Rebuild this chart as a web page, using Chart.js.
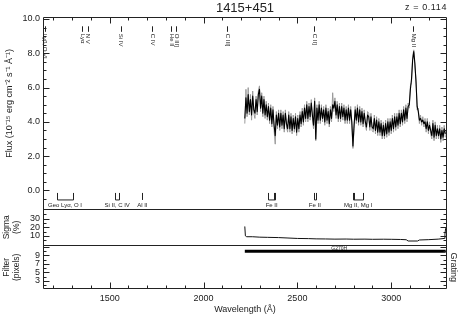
<!DOCTYPE html>
<html><head><meta charset="utf-8">
<script src="https://cdn.jsdelivr.net/npm/chart.js@4/dist/chart.umd.min.js"></script>
<style>html,body{margin:0;padding:0;background:#fff;}#wrap{width:468px;height:318px;}</style>
</head><body><div id="wrap"><canvas id="c" width="468" height="318"></canvas></div>
<script>
const chartTitle = '1415+451';
const redshiftText = 'z = 0.114';
const waves = [
2220,2226,2232,2238,2244,2250,2256,2262,2268,2274,
2280,2286,2292,2298,2304,2310,2316,2322,2328,2334,
2340,2346,2352,2358,2364,2370,2376,2382,2388,2394,
2400,2406,2412,2418,2424,2430,2436,2442,2448,2454,
2460,2466,2472,2478,2484,2490,2496,2502,2508,2514,
2520,2526,2532,2538,2544,2550,2556,2562,2568,2574,
2580,2586,2592,2598,2604,2610,2616,2622,2628,2634,
2640,2646,2652,2658,2664,2670,2676,2682,2688,2694,
2700,2706,2712,2718,2724,2730,2736,2742,2748,2754,
2760,2766,2772,2778,2784,2790,2796,2802,2808,2814,
2820,2826,2832,2838,2844,2850,2856,2862,2868,2874,
2880,2886,2892,2898,2904,2910,2916,2922,2928,2934,
2940,2946,2952,2958,2964,2970,2976,2982,2988,2994,
3000,3006,3012,3018,3024,3030,3036,3042,3048,3054,
3060,3066,3072,3078,3084,3090,3096,3102,3108,3114,
3120,3126,3132,3138,3144,3150,3156,3162,3168,3174,
3180,3186,3192,3198,3204,3210,3216,3222,3228,3234,
3240,3246,3252,3258,3264,3270,3276,3282,3288];
const fluxSmooth = [
4.2,5.4,4.5,5.6,4.6,5.3,4.4,5.5,4.7,4.5,
5.3,4.6,5.6,5.9,4.8,5.5,4.5,5.3,4.4,5.0,
4.3,4.9,4.1,4.8,3.9,4.7,3.8,3.2,4.4,3.8,
4.5,3.7,4.5,3.8,4.4,3.6,4.5,3.9,3.6,4.4,
3.6,4.3,3.5,4.2,3.6,4.3,3.4,4.2,3.6,4.4,
3.9,4.6,4.0,4.8,4.2,5.0,4.2,4.9,4.3,5.1,
4.4,3.8,5.2,3.0,4.8,4.1,5.0,4.1,4.8,4.2,
4.7,4.0,4.8,4.1,4.6,3.9,4.7,4.2,5.0,4.8,
5.2,4.4,5.0,4.2,4.9,4.2,4.9,4.3,4.8,4.1,
4.7,4.1,4.8,4.1,4.7,4.0,2.6,3.8,4.7,4.1,
4.8,4.0,4.7,4.0,4.6,3.9,4.5,4.0,3.7,4.4,
4.3,3.7,4.3,3.7,3.6,4.2,3.5,4.1,3.4,4.0,
3.4,3.9,3.2,3.8,3.2,3.9,3.3,4.0,3.4,4.0,
3.5,4.2,3.6,4.3,3.7,4.3,3.8,4.5,3.9,4.5,
4.0,4.7,4.1,4.8,4.2,4.9,5.0,5.9,6.5,7.6,
8.1,7.4,6.3,4.9,4.6,4.1,4.2,4.0,4.1,3.9,
4.0,3.6,4.0,3.5,3.8,3.5,3.2,3.9,3.1,3.8,
3.2,3.6,3.2,3.6,3.0,3.5,3.1,3.6,3.3];
const fluxRaw = [
3.9,5.9,4.3,6.0,4.4,5.6,4.1,5.8,4.5,4.2,
5.5,4.4,5.8,6.1,4.6,5.7,4.3,5.5,4.2,5.2,
4.1,5.1,3.9,5.0,3.7,4.9,3.5,2.7,4.6,3.6,
4.7,3.5,4.7,3.6,4.6,3.4,4.7,3.7,3.4,4.6,
3.4,4.5,3.3,4.4,3.4,4.5,3.2,4.4,3.4,4.6,
3.7,4.8,3.8,5.0,4.0,5.2,4.0,5.1,4.1,5.3,
4.2,3.6,5.4,2.9,5.0,3.9,5.2,3.9,5.0,4.0,
4.9,3.8,5.0,3.9,4.8,3.7,4.9,4.0,5.7,4.6,
5.4,4.2,5.2,4.0,5.1,4.0,5.1,4.1,5.0,3.9,
4.9,3.9,5.0,3.9,4.9,3.8,2.45,3.6,4.9,3.9,
5.0,3.8,4.9,3.8,4.8,3.7,4.7,3.8,3.5,4.6,
4.5,3.5,4.5,3.5,3.4,4.4,3.3,4.3,3.2,4.2,
3.2,4.1,3.0,4.0,3.0,4.1,3.1,4.2,3.2,4.2,
3.3,4.4,3.4,4.5,3.5,4.5,3.6,4.7,3.7,4.7,
3.8,4.9,3.9,5.0,4.0,5.1,4.8,6.1,6.3,7.8,
8.2,7.2,6.5,4.7,4.8,3.9,4.4,3.8,4.3,3.7,
4.2,3.4,4.2,3.3,4.0,3.3,3.0,4.1,2.9,4.0,
3.0,3.8,3.0,3.8,2.8,3.7,2.9,3.8,3.1];
const sigmaWaves = [2220,2223,2230,2260,2300,2340,2400,2450,2500,2560,2600,2650,2700,2760,2800,2860,2900,2960,3000,3050,3080,3090,3140,3150,3200,3250,3282,3286,3290];
const sigmaPct   = [21,10,9,9,8.5,8.3,8,7.5,7,6.8,6.5,6.4,6.2,6.3,6.1,6.2,6,6.1,6,5.8,5.5,4,4,5.2,5.6,6.2,7,12,19];
const filterWaves = [2220,3290];
const filterPixels = [10,10];
const gratingName = 'G270H';
const waveTicks = [1500,2000,2500,3000];
const fluxTicks = [0,2,4,6,8,10];
const sigmaTicks = [10,20,30];
const filterTicks = [3,5,7,9];
const emissionNames = ['Lyβ, O VI','Lyα','N V','Si IV','C IV','He II','O III]','C III]','C II]','Mg II'];
const emissionWaves = [1155,1355,1383,1559,1728,1829,1856,2127,2591,3118];
const absorptionNames = ['Geo Lyα, O I','Si II, C IV','Al II','Fe II','Fe II','Mg II, Mg I'];
const absorptionWaves = [[1220,1305],[1530,1550],[1674],[2344,2374,2382],[2586,2600],[2796,2803,2852]];

const FONT = 'Liberation Sans';
const INK = '#222';

const decorations = {
  id: 'decorations',
  afterDatasetsDraw(chart) {
    const {ctx, chartArea: a, scales} = chart;
    const xs = scales.x, yF = scales.yF, yS = scales.yS, yP = scales.yP;
    const L = Math.round(a.left) + 0.5, R = Math.round(a.right) - 0.5;
    const T = Math.round(a.top) + 0.5, B = Math.round(a.bottom) - 0.5;
    ctx.save();
    ctx.strokeStyle = INK; ctx.lineWidth = 1;
    ctx.beginPath();
    ctx.rect(L, T, R - L, B - T);
    const s1 = Math.round(yF.bottom) + 0.5, s2 = Math.round(yS.bottom) + 0.5;
    ctx.moveTo(L, s1); ctx.lineTo(R, s1);
    ctx.moveTo(L, s2); ctx.lineTo(R, s2);
    const yt = (scale, lo, hi, step, isMajor) => {
      for (let v = lo; v <= hi + 1e-9; v += step) {
        const p = Math.round(scale.getPixelForValue(v)) + 0.5;
        if (p <= scale.top + 1.5 || p >= scale.bottom - 1.5) continue;
        const len = isMajor(v) ? 6 : 3;
        ctx.moveTo(L, p); ctx.lineTo(L + len, p);
        ctx.moveTo(R, p); ctx.lineTo(R - len, p);
      }
    };
    yt(yF, -1, 10, 0.5, v => Math.abs(v / 2 - Math.round(v / 2)) < 1e-6);
    yt(yS, 0, 40, 5, v => v % 10 === 0);
    yt(yP, 1, 11, 1, v => v % 2 === 1);
    for (let w = 1200; w < 3300; w += 100) {
      const p = Math.round(xs.getPixelForValue(w)) + 0.5;
      const len = w % 500 === 0 ? 6 : 3;
      ctx.moveTo(p, T); ctx.lineTo(p, T + len);
      ctx.moveTo(p, B); ctx.lineTo(p, B - len);
    }
    emissionWaves.forEach(w => {
      const p = Math.round(xs.getPixelForValue(w)) + 0.5;
      ctx.moveTo(p, a.top + 9); ctx.lineTo(p, a.top + 14.5);
    });
    const z0 = yF.getPixelForValue(0);
    absorptionWaves.forEach(ws => {
      const ps = ws.map(w => Math.round(xs.getPixelForValue(w)) + 0.5);
      ps.forEach(p => { ctx.moveTo(p, z0 + 2.5); ctx.lineTo(p, z0 + 9.5); });
      if (ps.length > 1) { ctx.moveTo(ps[0], z0 + 9.5); ctx.lineTo(ps[ps.length - 1], z0 + 9.5); }
    });
    ctx.stroke();

    ctx.fillStyle = INK;
    ctx.font = '6px "' + FONT + '"';
    emissionNames.forEach((name, i) => {
      const p = xs.getPixelForValue(emissionWaves[i]);
      ctx.save();
      ctx.translate(p, a.top + 16.5);
      ctx.rotate(Math.PI / 2);
      ctx.textAlign = 'left'; ctx.textBaseline = 'middle';
      ctx.fillText(name, 0, 0);
      ctx.restore();
    });
    ctx.textAlign = 'center'; ctx.textBaseline = 'middle';
    absorptionNames.forEach((name, i) => {
      const ws = absorptionWaves[i];
      const mid = (ws[0] + ws[ws.length - 1]) / 2;
      ctx.fillText(name, xs.getPixelForValue(mid), z0 + 14.5);
    });
    ctx.font = '5px "' + FONT + '"';
    ctx.textBaseline = 'alphabetic';
    ctx.fillText(gratingName, xs.getPixelForValue((filterWaves[0] + filterWaves[1]) / 2) - 6, yP.getPixelForValue(filterPixels[0]) - 1.5);
    ctx.save();
    ctx.font = '9px "' + FONT + '"';
    if ('letterSpacing' in ctx) ctx.letterSpacing = '0.6px';
    ctx.textAlign = 'right'; ctx.textBaseline = 'middle';
    ctx.fillText(redshiftText, 447, 7.5);
    ctx.restore();
    ctx.save();
    ctx.font = '9px "' + FONT + '"';
    ctx.translate(453, (yP.top + yP.bottom) / 2);
    ctx.rotate(Math.PI / 2);
    ctx.textAlign = 'center'; ctx.textBaseline = 'middle';
    ctx.fillText('Grating', 0, 0);
    ctx.restore();
    ctx.restore();
  }
};

const tickFont = {family: FONT, size: 9};
const fixWidth = s => { s.width = 43; };
const setTicks = vals => s => { s.ticks = vals.map(v => ({value: v})); };

new Chart(document.getElementById('c'), {
  type: 'line',
  data: {
    datasets: [
      {data: waves.map((w, i) => ({x: w, y: fluxSmooth[i]})), yAxisID: 'yF', borderColor: '#000', borderWidth: 1.1, order: 0},
      {data: waves.map((w, i) => ({x: w, y: fluxRaw[i]})), yAxisID: 'yF', borderColor: '#9a9a9a', borderWidth: 1, order: 1},
      {data: sigmaWaves.map((w, i) => ({x: w, y: sigmaPct[i]})), yAxisID: 'yS', borderColor: '#111', borderWidth: 1, order: 0},
      {data: filterWaves.map((w, i) => ({x: w, y: filterPixels[i]})), yAxisID: 'yP', borderColor: '#000', borderWidth: 3, borderCapStyle: 'butt', order: 0}
    ]
  },
  options: {
    responsive: false,
    animation: false,
    events: [],
    devicePixelRatio: 1,
    layout: {padding: {left: 0, right: 21, top: 0, bottom: 0}},
    elements: {point: {radius: 0}, line: {tension: 0, borderJoinStyle: 'round', fill: false}},
    plugins: {
      legend: {display: false},
      tooltip: {enabled: false},
      title: {display: true, fullSize: false, text: chartTitle, color: INK, font: {family: FONT, size: 13, weight: 'normal', lineHeight: 1.1}, padding: {top: 1, bottom: 2}}
    },
    scales: {
      x: {
        type: 'linear', position: 'bottom', min: 1145, max: 3297,
        grid: {display: false, drawTicks: false}, border: {display: false},
        afterBuildTicks: setTicks(waveTicks),
        ticks: {font: tickFont, color: INK, padding: 4, autoSkip: false, maxRotation: 0, callback: v => String(v)},
        title: {display: true, text: 'Wavelength (Å)', color: INK, font: tickFont, padding: {top: 0, bottom: 3}},
        afterFit: s => { s.height = 28.7; }
      },
      yF: {
        type: 'linear', position: 'left', stack: 'panels', stackWeight: 192, weight: 3,
        min: -1.1, max: 10.1,
        grid: {display: false, drawTicks: false}, border: {display: false},
        afterBuildTicks: setTicks(fluxTicks),
        ticks: {font: tickFont, color: INK, padding: 3, autoSkip: false, callback: v => v.toFixed(1)},
        title: {display: true, text: '        Flux (10⁻¹⁵ erg cm⁻² s⁻¹ Å⁻¹)', color: INK, font: tickFont, padding: {top: 4, bottom: 0}},
        afterFit: fixWidth
      },
      yS: {
        type: 'linear', position: 'left', stack: 'panels', stackWeight: 36, weight: 2,
        min: -1, max: 41,
        grid: {display: false, drawTicks: false}, border: {display: false},
        afterBuildTicks: setTicks(sigmaTicks),
        ticks: {font: tickFont, color: INK, padding: 3, autoSkip: false, callback: v => String(v)},
        title: {display: true, text: ['Sigma', '(%)'], color: INK, font: {family: FONT, size: 8.5, lineHeight: '10px'}, padding: {top: 2, bottom: 0}},
        afterFit: fixWidth
      },
      yP: {
        type: 'linear', position: 'left', stack: 'panels', stackWeight: 44, weight: 1,
        min: 1, max: 11.4,
        grid: {display: false, drawTicks: false}, border: {display: false},
        afterBuildTicks: setTicks(filterTicks),
        ticks: {font: tickFont, color: INK, padding: 3, autoSkip: false, callback: v => String(v)},
        title: {display: true, text: ['Filter', '(pixels)'], color: INK, font: {family: FONT, size: 8.5, lineHeight: '10px'}, padding: {top: 2, bottom: 0}},
        afterFit: fixWidth
      }
    }
  },
  plugins: [decorations]
});
</script>
</body></html>
